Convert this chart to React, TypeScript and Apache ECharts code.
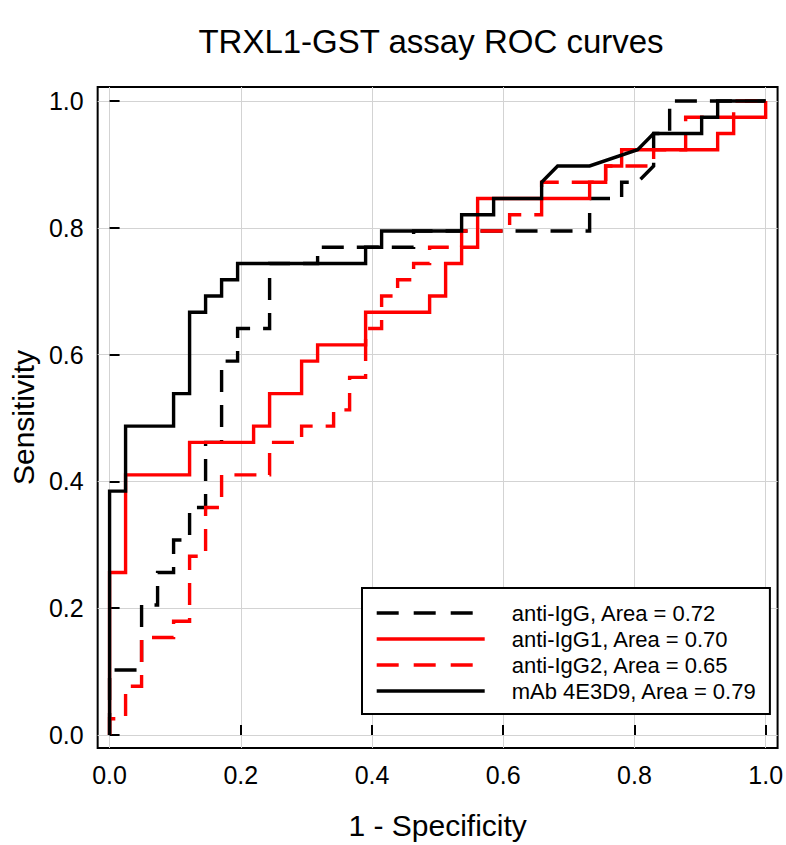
import React, { useEffect, useRef } from "react";
import * as echarts from "echarts";

const TITLE = "TRXL1-GST assay ROC curves";
const X_NAME = "1 - Specificity";
const Y_NAME = "Sensitivity";
const TICKS = [0, 0.2, 0.4, 0.6, 0.8, 1.0];

// Group sizes (steps of the ROC curves)
const N_NEGATIVE = 41;
const N_POSITIVE = 39;

const SERIES_NAMES = [
  "anti-IgG, Area = 0.72",
  "anti-IgG1, Area = 0.70",
  "anti-IgG2, Area = 0.65",
  "mAb 4E3D9, Area = 0.79",
];

// ROC vertices: false-positive counts (of 41) and true-positive counts (of 39)
const igG_fp = [0, 0, 2, 2, 3, 3, 4, 4, 5, 5, 6, 6, 7, 7, 8, 8, 10, 10, 13, 13, 19, 19, 30, 30, 32, 32, 33, 34, 34, 35, 35, 41];
const igG_tp = [0, 4, 4, 8, 8, 10, 10, 12, 12, 14, 14, 18, 18, 23, 23, 25, 25, 29, 29, 30, 30, 31, 31, 33, 33, 34, 34, 35, 37, 37, 39, 39];

const igG1_fp = [0, 0, 1, 1, 5, 5, 9, 9, 10, 10, 12, 12, 13, 13, 16, 16, 20, 20, 21, 21, 22, 22, 23, 23, 30, 30, 31, 31, 32, 32, 38, 38, 39, 39, 41, 41];
const igG1_tp = [0, 10, 10, 16, 16, 18, 18, 19, 19, 21, 21, 23, 23, 24, 24, 26, 26, 27, 27, 29, 29, 30, 30, 33, 33, 34, 34, 35, 35, 36, 36, 37, 37, 38, 38, 39];

const igG2_fp = [0, 0, 1, 1, 2, 2, 4, 4, 5, 5, 6, 6, 7, 7, 10, 10, 12, 12, 14, 14, 15, 15, 16, 16, 17, 17, 18, 18, 19, 19, 20, 20, 22, 22, 25, 25, 27, 27, 31, 31, 34, 34, 36, 36, 39, 39, 41];
const igG2_tp = [0, 1, 1, 3, 3, 6, 6, 7, 7, 11, 11, 14, 14, 16, 16, 18, 18, 19, 19, 20, 20, 22, 22, 25, 25, 27, 27, 28, 28, 29, 29, 30, 30, 31, 31, 32, 32, 34, 34, 35, 35, 36, 36, 38, 38, 39, 39];

const mab_fp = [0, 0, 1, 1, 4, 4, 5, 5, 6, 6, 7, 7, 8, 8, 16, 16, 17, 17, 22, 22, 24, 24, 27, 27, 28, 30, 33, 34, 37, 37, 38, 38, 41];
const mab_tp = [0, 15, 15, 19, 19, 21, 21, 26, 26, 27, 27, 28, 28, 29, 29, 30, 30, 31, 31, 32, 32, 33, 33, 34, 35, 35, 36, 37, 37, 38, 38, 39, 39];

const FONT = '"Liberation Sans", Arial, Helvetica, sans-serif';

function toPoints(fp: number[], tp: number[]) {
  return fp.map((f, i) => [f / N_NEGATIVE, tp[i] / N_POSITIVE]);
}

export default function App() {
  const ref = useRef<HTMLDivElement>(null);

  useEffect(() => {
    if (!ref.current) return;
    const chart = echarts.init(ref.current, undefined, { renderer: "svg" });

    const defs = [
      { name: SERIES_NAMES[0], data: toPoints(igG_fp, igG_tp), color: "#000000", dashed: true },
      { name: SERIES_NAMES[1], data: toPoints(igG1_fp, igG1_tp), color: "#ff0000", dashed: false },
      { name: SERIES_NAMES[2], data: toPoints(igG2_fp, igG2_tp), color: "#ff0000", dashed: true },
      { name: SERIES_NAMES[3], data: toPoints(mab_fp, mab_tp), color: "#000000", dashed: false },
    ];

    const axisCommon = {
      type: "value" as const,
      axisLine: { show: false },
      axisTick: {
        show: true,
        inside: true,
        length: 10,
        lineStyle: { color: "#000", width: 2 },
        customValues: TICKS,
      },
      axisLabel: {
        customValues: TICKS,
        formatter: (v: number) => v.toFixed(1),
        color: "#000",
        fontSize: 25,
        fontFamily: FONT,
        margin: 14,
      },
      splitLine: { show: true, lineStyle: { color: "#d3d3d3", width: 1 } },
      nameLocation: "middle" as const,
      nameTextStyle: { color: "#000", fontSize: 30, fontFamily: FONT },
    };

    chart.setOption({
      animation: false,
      backgroundColor: "#ffffff",
      title: {
        text: TITLE,
        left: 426,
        top: 20,
        textAlign: "center",
        textStyle: { color: "#000", fontSize: 33, fontWeight: "normal", fontFamily: FONT },
      },
      grid: {
        left: 96,
        top: 87,
        width: 684,
        height: 664,
        show: true,
        borderColor: "#000",
        borderWidth: 2,
        backgroundColor: "transparent",
      },
      xAxis: {
        ...axisCommon,
        min: -0.01818,
        max: 1.01818,
        name: X_NAME,
        nameGap: 62,
      },
      yAxis: {
        ...axisCommon,
        min: -0.0204,
        max: 1.02198,
        name: Y_NAME,
        nameGap: 58,
      },
      legend: {
        orient: "vertical",
        left: 362,
        top: 588,
        padding: [14, 13, 12, 13],
        itemGap: 4,
        itemWidth: 108,
        itemHeight: 14,
        borderColor: "#000",
        borderWidth: 2,
        backgroundColor: "#fff",
        itemStyle: { opacity: 0 },
        lineStyle: { width: 3.4 },
        textStyle: {
          color: "#000",
          fontSize: 22,
          lineHeight: 22,
          fontFamily: FONT,
          padding: [0, 0, 0, 22],
        },
        data: defs.map((d) =>
          d.dashed
            ? { name: d.name, lineStyle: { type: [22, 15], width: 3.4 } }
            : { name: d.name }
        ),
      },
      series: defs.map((d) => ({
        type: "line",
        name: d.name,
        data: d.data,
        symbol: "none",
        clip: true,
        lineStyle: {
          color: d.color,
          width: 3.4,
          type: d.dashed ? [22, 13] : "solid",
          cap: "butt",
          join: "miter",
        },
        itemStyle: { color: d.color },
        emphasis: { disabled: true },
      })),
    });

    return () => chart.dispose();
  }, []);

  return (
    <div
      ref={ref}
      style={{ position: "absolute", left: 0, top: 0, width: 786, height: 845, background: "#fff" }}
    />
  );
}
